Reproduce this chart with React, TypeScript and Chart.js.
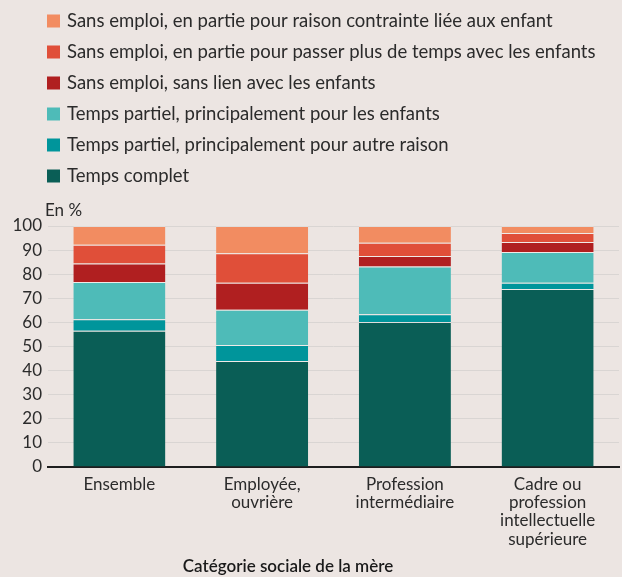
import React, { useEffect, useRef } from "react";
import { Chart, registerables } from "chart.js";

Chart.register(...registerables);

const categories: (string | string[])[] = [
  "Ensemble",
  ["Employée,", "ouvrière"],
  ["Profession", "intermédiaire"],
  ["Cadre ou", "profession", "intellectuelle", "supérieure"],
];

const tempsComplet = [56.5, 44.0, 60.2, 73.9];
const partielAutre = [4.8, 6.6, 3.2, 2.6];
const partielEnfants = [15.5, 14.6, 19.8, 12.7];
const sansLien = [7.6, 11.3, 4.4, 4.2];
const sansEmploiPasser = [7.8, 12.2, 5.4, 3.7];
const sansEmploiContrainte = [7.8, 11.3, 7.0, 2.9];

const seriesLabels = [
  "Temps complet",
  "Temps partiel, principalement pour autre raison",
  "Temps partiel, principalement pour les enfants",
  "Sans emploi, sans lien avec les enfants",
  "Sans emploi, en partie pour passer plus de temps avec les enfants",
  "Sans emploi, en partie pour raison contrainte liée aux enfant",
];
const seriesColors = ["#0a5e56", "#00959b", "#4ebbb8", "#b01f20", "#e04f39", "#f28c61"];

const yTicks = [0, 10, 20, 30, 40, 50, 60, 70, 80, 90, 100];
const yUnit = "En %";
const xTitle = "Catégorie sociale de la mère";

const FONT = "Lato, 'Open Sans', sans-serif";
const TEXT = "#2b2b2b";
const BG = "#ece5e2";

const overlayPlugin = {
  id: "overlay",
  afterDraw(chart: any) {
    const ctx = chart.ctx;
    ctx.save();
    // legend
    const ds = chart.data.datasets;
    ctx.font = `18.5px ${FONT}`;
    ctx.textBaseline = "middle";
    ctx.textAlign = "left";
    for (let i = 0; i < ds.length; i++) {
      const d = ds[ds.length - 1 - i];
      const cy = 21 + i * 31;
      ctx.fillStyle = d.backgroundColor;
      ctx.fillRect(47, cy - 6.5, 13, 13);
      ctx.fillStyle = TEXT;
      ctx.fillText(d.label, 67, cy + 0.5);
    }
    // unit
    ctx.font = `17px ${FONT}`;
    ctx.fillText(yUnit, 45, 211);
    // x title
    ctx.font = `600 17px ${FONT}`;
    ctx.textAlign = "center";
    ctx.fillStyle = "#1a1a1a";
    ctx.fillText(xTitle, 288, 567);
    ctx.restore();
  },
};

export default function App() {
  const ref = useRef<HTMLCanvasElement>(null);
  useEffect(() => {
    const datasetsData = [
      tempsComplet,
      partielAutre,
      partielEnfants,
      sansLien,
      sansEmploiPasser,
      sansEmploiContrainte,
    ];
    const chart = new Chart(ref.current!, {
      type: "bar",
      data: {
        labels: categories,
        datasets: datasetsData.map((d, i) => ({
          label: seriesLabels[i],
          data: d,
          backgroundColor: seriesColors[i],
          borderColor: "rgba(255,255,255,0.2)",
          borderWidth: { top: 1, bottom: 0, left: 0, right: 0 },
          borderSkipped: false,
          categoryPercentage: 1,
          barPercentage: 0.645,
        })),
      },
      options: {
        animation: false,
        responsive: false,
        maintainAspectRatio: false,
        layout: { padding: { top: 226, right: 3, left: 0, bottom: 0 } },
        plugins: {
          legend: { display: false },
          tooltip: { enabled: false },
        },
        scales: {
          x: {
            stacked: true,
            grid: { display: false, drawTicks: false },
            border: { display: true, color: "#1e1e1e", width: 2 },
            ticks: {
              autoSkip: false,
              maxRotation: 0,
              minRotation: 0,
              padding: 8,
              color: TEXT,
              font: { family: FONT, size: 17, lineHeight: 1.08 },
            },
            afterFit: (s: any) => {
              s.height = 110;
            },
          },
          y: {
            stacked: true,
            min: 0,
            max: 100,
            afterBuildTicks: (s: any) => {
              s.ticks = yTicks.map((v) => ({ value: v }));
            },
            grid: { color: "#d9d5d3", lineWidth: 1, drawTicks: false },
            border: { display: false },
            ticks: {
              padding: 6,
              color: TEXT,
              font: { family: FONT, size: 17 },
            },
            afterFit: (s: any) => {
              s.width = 48;
            },
          },
        },
      },
      plugins: [overlayPlugin],
    });
    return () => chart.destroy();
  }, []);
  return (
    <div style={{ position: "absolute", left: 0, top: 0, width: 622, height: 577, background: BG }}>
      <canvas ref={ref} width={622} height={577} style={{ display: "block", width: 622, height: 577 }} />
    </div>
  );
}
